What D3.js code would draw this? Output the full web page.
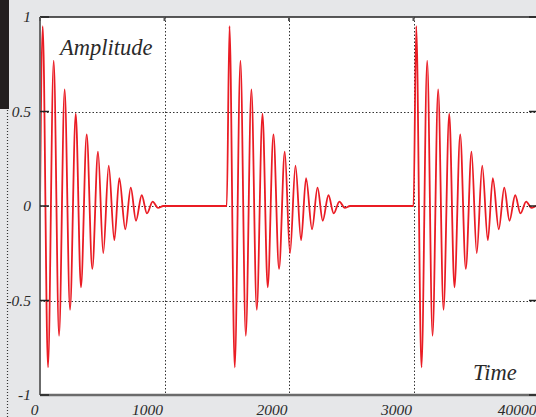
<!DOCTYPE html>
<html>
<head>
<meta charset="utf-8">
<script src="https://cdn.jsdelivr.net/npm/d3@7"></script>
<style>
  body { margin: 0; background: #e6e7e9; }
  svg { display: block; }
  .tick text { font-family: "Liberation Serif", serif; font-style: italic; fill: #2a2a2a; }
</style>
</head>
<body>
<div id="my_dataviz"></div>
<script>
// one burst of the damped oscillation: time offset from burst start and amplitude (extrema)
var burstOffsets = [0, 22, 64, 110, 153, 198, 241, 287, 329, 375, 420, 466, 508, 552, 597, 637, 685, 729, 771, 817, 859, 905, 948, 990];
var burstAmps = [0, 0.952, -0.854, 0.769, -0.687, 0.617, -0.549, 0.488, -0.43, 0.379, -0.333, 0.287, -0.25, 0.213, -0.181, 0.148, -0.123, 0.097, -0.078, 0.057, -0.039, 0.023, -0.01, 0];
var burstStarts = [0, 1500, 3000];
var endTime = 4000;

var xTicks = [0, 1000, 2000, 3000, 4000];
var xTickLabels = ["0", "1000", "2000", "3000", "40000"];
var yTicks = [-1, -0.5, 0, 0.5, 1];
var yTickLabels = ["-1", "-0.5", "0", "0.5", "1"];

var margin = {top: 17, right: -2, bottom: 22, left: 40},
    width = 536 - margin.left - margin.right,
    height = 417 - margin.top - margin.bottom;

var svg = d3.select("#my_dataviz")
  .append("svg")
  .attr("width", 536)
  .attr("height", 417);

// bits of the window behind the chart
svg.append("rect")
  .attr("x", 0).attr("y", 0)
  .attr("width", 9).attr("height", 109)
  .attr("fill", "#231f20");
svg.append("line")
  .attr("x1", 7.5).attr("x2", 7.5)
  .attr("y1", 110).attr("y2", 417)
  .attr("stroke", "#333")
  .attr("stroke-width", 1.2)
  .style("stroke-dasharray", "1,2");

var x = d3.scaleLinear().domain([0, 4000]).range([0, width]);
var y = d3.scaleLinear().domain([-1, 1]).range([height, 0]);

var g = svg.append("g")
  .attr("transform", "translate(" + margin.left + "," + margin.top + ")");

g.append("rect")
  .attr("width", width).attr("height", height)
  .attr("fill", "white");

// dotted grid
g.selectAll(".vgrid")
  .data(xTicks.slice(1, -1))
  .enter().append("line")
  .attr("class", "vgrid")
  .attr("x1", function(d) { return Math.round(x(d)) + 0.5; })
  .attr("x2", function(d) { return Math.round(x(d)) + 0.5; })
  .attr("y1", 0).attr("y2", height)
  .attr("stroke", "#333")
  .style("stroke-dasharray", "1.5,2");

g.selectAll(".hgrid")
  .data(yTicks.slice(1, -1))
  .enter().append("line")
  .attr("class", "hgrid")
  .attr("x1", 0).attr("x2", width)
  .attr("y1", function(d) { return Math.round(y(d)) + 0.5; })
  .attr("y2", function(d) { return Math.round(y(d)) + 0.5; })
  .attr("stroke", "#333")
  .style("stroke-dasharray", "1.5,2");

// signal
var series = [];
burstStarts.forEach(function(s) {
  burstOffsets.forEach(function(o, i) {
    series.push([s + o, burstAmps[i]]);
  });
});
series.push([endTime, 0]);

var line = d3.line()
  .x(function(d) { return x(d[0]); })
  .y(function(d) { return y(d[1]); })
  .curve(d3.curveMonotoneX);

g.append("path")
  .datum(series)
  .attr("d", line)
  .attr("fill", "none")
  .attr("stroke", "#ea1c24")
  .attr("stroke-width", 1.8);

// frame
g.append("line")
  .attr("x1", 0).attr("x2", width)
  .attr("y1", 0).attr("y2", 0)
  .attr("stroke", "#222").attr("stroke-width", 1.5);
g.append("line")
  .attr("x1", 0).attr("x2", 0)
  .attr("y1", 0).attr("y2", height)
  .attr("stroke", "#6b6b6b").attr("stroke-width", 2);
g.append("line")
  .attr("x1", 0).attr("x2", width)
  .attr("y1", height).attr("y2", height)
  .attr("stroke", "#6b6b6b").attr("stroke-width", 2.5);

// inward tick marks
g.selectAll(".ltick")
  .data(yTicks)
  .enter().append("line")
  .attr("x1", 0).attr("x2", 9)
  .attr("y1", function(d) { return y(d); })
  .attr("y2", function(d) { return y(d); })
  .attr("stroke", "#222").attr("stroke-width", 1.5);
g.selectAll(".rtick")
  .data(yTicks)
  .enter().append("line")
  .attr("x1", width - 9).attr("x2", width)
  .attr("y1", function(d) { return y(d); })
  .attr("y2", function(d) { return y(d); })
  .attr("stroke", "#222").attr("stroke-width", 1.5);
g.selectAll(".ttick")
  .data(xTicks)
  .enter().append("line")
  .attr("x1", function(d) { return x(d); })
  .attr("x2", function(d) { return x(d); })
  .attr("y1", 0).attr("y2", 4)
  .attr("stroke", "#555").attr("stroke-width", 2);

// axes (labels only)
var yAxis = d3.axisLeft(y)
  .tickValues(yTicks)
  .tickSize(0)
  .tickPadding(9)
  .tickFormat(function(d, i) { return yTickLabels[i]; });

var xAxis = d3.axisBottom(x)
  .tickValues(xTicks)
  .tickSize(0)
  .tickPadding(9)
  .tickFormat(function(d, i) { return xTickLabels[i]; });

g.append("g")
  .attr("class", "y axis")
  .call(yAxis)
  .call(function(a) { a.select(".domain").remove(); })
  .selectAll("text")
  .style("font-size", "15.5px");

g.append("g")
  .attr("class", "x axis")
  .attr("transform", "translate(0," + height + ")")
  .call(xAxis)
  .call(function(a) { a.select(".domain").remove(); })
  .selectAll("text")
  .style("font-size", "15.5px")
  .attr("text-anchor", "end")
  .attr("dx", -2);

// axis titles inside the plot
g.append("text")
  .attr("x", 20)
  .attr("y", 38)
  .style("font-family", "Liberation Serif, serif")
  .style("font-style", "italic")
  .style("font-size", "22.5px")
  .attr("fill", "#2a2a2a")
  .text("Amplitude");

g.append("text")
  .attr("x", 433)
  .attr("y", 363)
  .style("font-family", "Liberation Serif, serif")
  .style("font-style", "italic")
  .style("font-size", "22.5px")
  .attr("fill", "#2a2a2a")
  .text("Time");
</script>
</body>
</html>
